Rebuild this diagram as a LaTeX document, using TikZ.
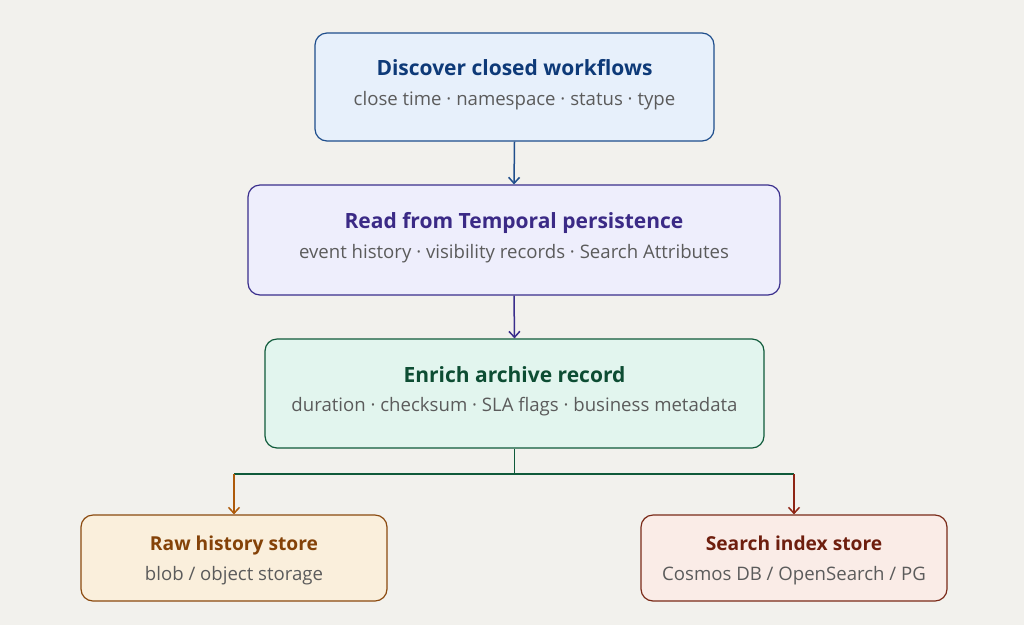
\documentclass[tikz,border=0pt]{standalone}
\usepackage{fontspec}
\setmainfont{Open Sans}
\usetikzlibrary{arrows.meta}
\definecolor{bg}{HTML}{F2F1ED}
\definecolor{subc}{HTML}{5B5B5B}
\definecolor{fA}{HTML}{E7F0FB}\definecolor{sA}{HTML}{1F4E8C}\definecolor{tA}{HTML}{0E3A78}
\definecolor{fB}{HTML}{EEEEFC}\definecolor{sB}{HTML}{3A2E8C}\definecolor{tB}{HTML}{3B2A86}
\definecolor{fC}{HTML}{E2F5EE}\definecolor{sC}{HTML}{0F5A3A}\definecolor{tC}{HTML}{0D4D33}
\definecolor{fD}{HTML}{FAEFDC}\definecolor{sD}{HTML}{8B4A0F}\definecolor{tD}{HTML}{844208}
\definecolor{fE}{HTML}{FAECE7}\definecolor{sE}{HTML}{7A2A18}\definecolor{tE}{HTML}{6E1E0E}
\tikzset{
  box/.style={draw, rounded corners=12pt, line width=1.2pt, inner sep=0pt},
  ttl/.style={font=\fontsize{21}{24}\selectfont\bfseries, inner sep=0pt, anchor=base},
  bttl/.style={font=\fontsize{19.2}{22}\selectfont\bfseries, inner sep=0pt, anchor=base},
  sub/.style={font=\fontsize{18.6}{22}\selectfont, text=subc, inner sep=0pt, anchor=base},
  conn/.style={line width=1.5pt, -{Straight Barb[length=6pt,width=11pt,line width=1.5pt]}},
  seg/.style={line width=1.5pt}
}
\begin{document}
\begin{tikzpicture}[x=1pt,y=-1pt]
\useasboundingbox[fill=bg] (0,0) rectangle (1024,625);
% boxes
\node[box, draw=sA, fill=fA, minimum width=399pt, minimum height=108pt] (b1) at (514.5,87) {};
\node[box, draw=sB, fill=fB, minimum width=532pt, minimum height=110pt] (b2) at (514,240) {};
\node[box, draw=sC, fill=fC, minimum width=499pt, minimum height=109pt] (b3) at (514.5,393.5) {};
\node[box, draw=sD, fill=fD, minimum width=306pt, minimum height=86pt] (b4) at (234,558) {};
\node[box, draw=sE, fill=fE, minimum width=306pt, minimum height=86pt] (b5) at (794,558) {};
% texts
\node[ttl, text=tA] (t1) at (514.5,75) {Discover closed workflows};
\node[sub] (s1) at (514.5,105.5) {close time · namespace · status · type};
\node[ttl, text=tB] (t2) at (514,228) {Read from Temporal persistence};
\node[sub] (s2) at (514,258.5) {event history · visibility records · Search Attributes};
\node[ttl, text=tC] (t3) at (514.5,382) {Enrich archive record};
\node[sub] (s3) at (514.5,411.5) {duration · checksum · SLA flags · business metadata};
\node[bttl, text=tD] (t4) at (234,550.5) {Raw history store};
\node[sub] (s4) at (234,580) {blob / object storage};
\node[bttl, text=tE] (t5) at (794,550.5) {Search index store};
\node[sub] (s5) at (794,580) {Cosmos DB / OpenSearch / PG};
% connectors
\coordinate (split) at (514.5,474);
\coordinate (jl) at (234,474);
\coordinate (jr) at (794,474);
\draw[conn, draw=sA] (b1.south) -- (b2.north);
\draw[conn, draw=sB] (b2.south) -- (b3.north);
\draw[seg, draw=sC] (b3.south) -- (split);
\draw[seg, draw=sC] (jl) -- (jr);
\draw[conn, draw=sD!70!orange] (jl) -- (b4.north);
\draw[conn, draw=sE!85!red] (jr) -- (b5.north);
\end{tikzpicture}
\end{document}
